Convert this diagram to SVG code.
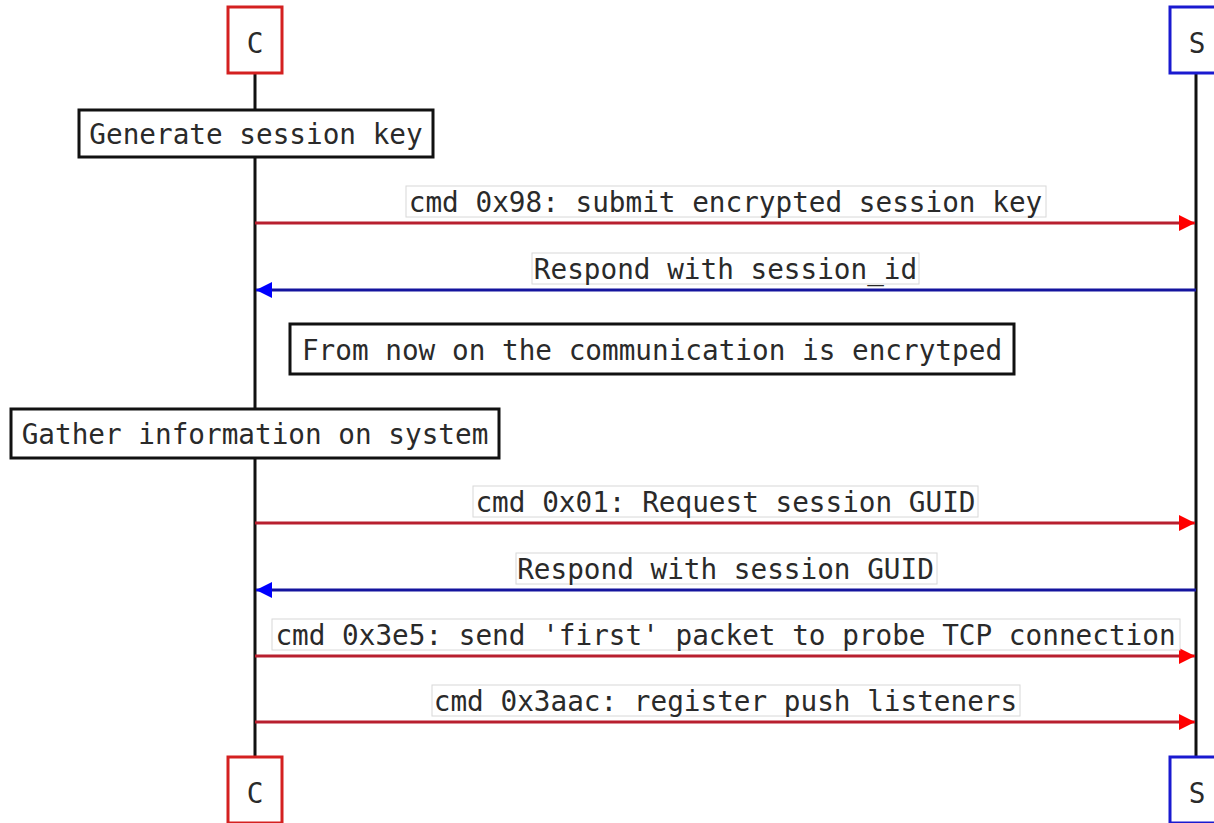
<svg xmlns="http://www.w3.org/2000/svg" width="1214" height="823" viewBox="0 0 1214 823">
<style>
text{font-family:"DejaVu Sans Mono","Liberation Mono",monospace;font-size:27.7px;fill:#2a2a2a;}
.life{stroke:#111;stroke-width:3;}
.pc{fill:#fff;stroke:#d42020;stroke-width:3;}
.ps{fill:#fff;stroke:#1a1ad0;stroke-width:3;}
.box{fill:#fff;stroke:#111;stroke-width:3;}
.lbl{fill:#fff;stroke:#d8d8d8;stroke-width:1;}
.req{stroke:#b81f2e;stroke-width:3;fill:none;}
.resp{stroke:#14149e;stroke-width:3;fill:none;}
.mid{text-anchor:middle;}
</style>
<defs>
<marker id="ar" markerWidth="16" markerHeight="16" refX="16" refY="8" orient="auto" markerUnits="userSpaceOnUse"><path d="M0,0 L16,8 L0,16 Z" fill="#ff0000"/></marker>
<marker id="ab" markerWidth="16" markerHeight="16" refX="16" refY="8" orient="auto" markerUnits="userSpaceOnUse"><path d="M0,0 L16,8 L0,16 Z" fill="#0000ff"/></marker>
</defs>
<rect width="1214" height="823" fill="#fff"/>
<g id="lifelines">
<line class="life" x1="255" y1="73" x2="255" y2="757"/>
<line class="life" x1="1196" y1="73" x2="1196" y2="757"/>
</g>
<g id="participant-C-top"><rect class="pc" x="228" y="7" width="54" height="66"/><text class="mid" x="255" y="53">C</text></g>
<g id="participant-S-top"><rect class="ps" x="1170" y="7" width="54" height="66"/><text class="mid" x="1197" y="53">S</text></g>
<g id="participant-C-bottom"><rect class="pc" x="228" y="757" width="54" height="66"/><text class="mid" x="255" y="803">C</text></g>
<g id="participant-S-bottom"><rect class="ps" x="1170" y="757" width="54" height="66"/><text class="mid" x="1197" y="803">S</text></g>
<g id="note-generate"><rect class="box" x="79" y="110" width="354" height="47"/><text class="mid" x="256" y="144">Generate session key</text></g>
<g id="note-encrypted"><rect class="box" x="290" y="324" width="724" height="50"/><text class="mid" x="652" y="360">From now on the communication is encrytped</text></g>
<g id="note-gather"><rect class="box" x="11" y="409" width="488" height="49"/><text class="mid" x="255" y="444">Gather information on system</text></g>
<g id="connectors">
<line class="req" x1="255" y1="223" x2="1195" y2="223" marker-end="url(#ar)"/>
<rect class="lbl" x="406" y="186" width="640" height="31"/><text class="mid" x="725.5" y="212">cmd 0x98: submit encrypted session key</text>
<line class="resp" x1="1196" y1="290" x2="256" y2="290" marker-end="url(#ab)"/>
<rect class="lbl" x="532" y="253" width="387" height="31"/><text class="mid" x="725.5" y="279">Respond with session_id</text>
<line class="req" x1="255" y1="523" x2="1195" y2="523" marker-end="url(#ar)"/>
<rect class="lbl" x="473" y="486" width="505" height="31"/><text class="mid" x="725.5" y="512">cmd 0x01: Request session GUID</text>
<line class="resp" x1="1196" y1="590" x2="256" y2="590" marker-end="url(#ab)"/>
<rect class="lbl" x="516" y="553" width="421" height="31"/><text class="mid" x="725.5" y="579">Respond with session GUID</text>
<line class="req" x1="255" y1="656" x2="1195" y2="656" marker-end="url(#ar)"/>
<rect class="lbl" x="272" y="619" width="908" height="31"/><text class="mid" x="725.5" y="645">cmd 0x3e5: send 'first' packet to probe TCP connection</text>
<line class="req" x1="255" y1="722" x2="1195" y2="722" marker-end="url(#ar)"/>
<rect class="lbl" x="432" y="685" width="588" height="31"/><text class="mid" x="725.5" y="711">cmd 0x3aac: register push listeners</text>
</g>
</svg>
